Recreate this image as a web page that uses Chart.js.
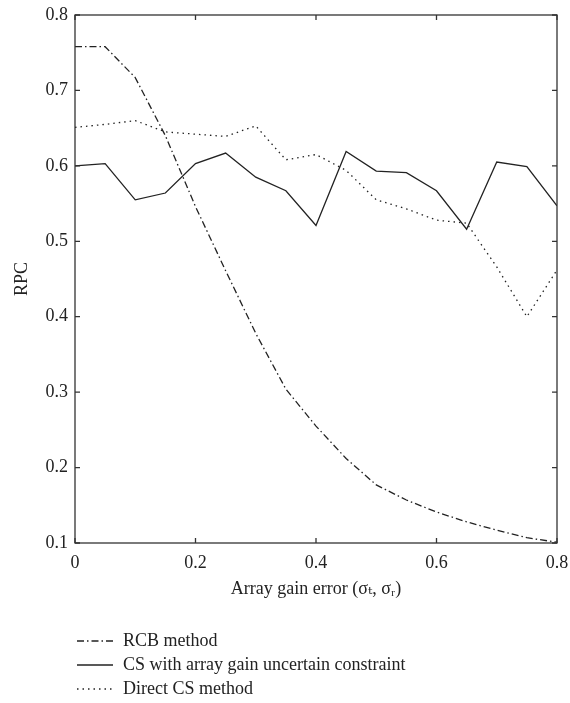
<!DOCTYPE html>
<html>
<head>
<meta charset="utf-8">
<script src="https://cdn.jsdelivr.net/npm/chart.js@4/dist/chart.umd.min.js"></script>
<style>
  html, body { margin: 0; padding: 0; background: #fff; }
</style>
</head>
<body>
<canvas id="chart" width="570" height="703"></canvas>
<script>
// array gain error (sigma_t, sigma_r)
const gainError = [0, 0.05, 0.1, 0.15, 0.2, 0.25, 0.3, 0.35, 0.4, 0.45, 0.5, 0.55, 0.6, 0.65, 0.7, 0.75, 0.8]
const rcbMethod = [0.758, 0.758, 0.717, 0.640, 0.546, 0.461, 0.378, 0.304, 0.255, 0.212, 0.177, 0.157, 0.141, 0.128, 0.117, 0.107, 0.101]
const csConstraint = [0.600, 0.603, 0.555, 0.564, 0.603, 0.617, 0.585, 0.567, 0.521, 0.619, 0.593, 0.591, 0.567, 0.516, 0.605, 0.599, 0.547]
const directCS = [0.651, 0.655, 0.660, 0.645, 0.642, 0.639, 0.653, 0.608, 0.615, 0.594, 0.555, 0.543, 0.528, 0.524, 0.466, 0.400, 0.462]
const seriesNames = ['RCB method', 'CS with array gain uncertain constraint', 'Direct CS method']

const xTickValues = [0, 0.2, 0.4, 0.6, 0.8]
const yTickValues = [0.1, 0.2, 0.3, 0.4, 0.5, 0.6, 0.7, 0.8]

const fontFamily = '"Liberation Serif", "DejaVu Serif", serif'
const ink = '#222'

function toPoints(values) {
  return values.map((v, i) => ({x: gainError[i], y: v}))
}

function tickLabel(v) {
  return v === 0 ? '0' : v.toFixed(1)
}

// matlab style box: frame, inward ticks on all sides, and the stacked legend below
const boxPlugin = {
  id: 'box',
  afterDatasetsDraw(chart) {
    let {ctx, chartArea: a, scales} = chart
    let tick = 5
    ctx.save()
    ctx.strokeStyle = '#333'
    ctx.lineWidth = 1.3
    ctx.setLineDash([])
    ctx.strokeRect(a.left, a.top, a.right - a.left, a.bottom - a.top)
    ctx.beginPath()
    for (let v of xTickValues) {
      let px = scales.x.getPixelForValue(v)
      ctx.moveTo(px, a.bottom); ctx.lineTo(px, a.bottom - tick)
      ctx.moveTo(px, a.top); ctx.lineTo(px, a.top + tick)
    }
    for (let v of yTickValues) {
      let py = scales.y.getPixelForValue(v)
      ctx.moveTo(a.left, py); ctx.lineTo(a.left + tick, py)
      ctx.moveTo(a.right, py); ctx.lineTo(a.right - tick, py)
    }
    ctx.stroke()

    // legend
    ctx.font = '18px ' + fontFamily
    ctx.textBaseline = 'middle'
    ctx.fillStyle = ink
    chart.data.datasets.forEach((ds, i) => {
      let y = 641 + 24 * i
      ctx.strokeStyle = ds.borderColor
      ctx.lineWidth = ds.borderWidth
      ctx.setLineDash(ds.borderDash || [])
      ctx.beginPath()
      ctx.moveTo(77, y)
      ctx.lineTo(113, y)
      ctx.stroke()
      ctx.fillText(ds.label, 123, y)
    })
    ctx.restore()
  },
}

let ctx = document.getElementById('chart').getContext('2d')
let chart = new Chart(ctx, {
  type: 'line',
  data: {
    datasets: [
      {label: seriesNames[0], data: toPoints(rcbMethod), borderDash: [7, 3, 1.5, 3]},
      {label: seriesNames[1], data: toPoints(csConstraint), borderDash: []},
      {label: seriesNames[2], data: toPoints(directCS), borderDash: [1.5, 4]},
    ].map(ds => Object.assign(ds, {
      borderColor: ink,
      borderWidth: 1.3,
      pointRadius: 0,
      fill: false,
      tension: 0,
    })),
  },
  options: {
    responsive: false,
    animation: false,
    devicePixelRatio: 1,
    layout: {
      padding: {left: 0, right: 13, top: 15, bottom: 103},
    },
    plugins: {
      legend: {display: false},
      tooltip: {enabled: false},
    },
    scales: {
      x: {
        type: 'linear',
        min: 0,
        max: 0.8,
        afterBuildTicks: s => { s.ticks = xTickValues.map(v => ({value: v})) },
        afterFit: s => { s.height = 57; s.paddingRight = 0; s.paddingLeft = 0 },
        grid: {display: false, drawTicks: false},
        border: {display: false},
        ticks: {
          padding: 9,
          color: ink,
          font: {family: fontFamily, size: 18},
          callback: tickLabel,
          maxRotation: 0,
        },
        title: {
          display: true,
          text: 'Array gain error (σₜ, σᵣ)',
          color: ink,
          font: {family: fontFamily, size: 18},
          padding: {top: 0, bottom: 0},
        },
      },
      y: {
        type: 'linear',
        min: 0.1,
        max: 0.8,
        afterBuildTicks: s => { s.ticks = yTickValues.map(v => ({value: v})) },
        afterFit: s => { s.width = 75; s.paddingTop = 0; s.paddingBottom = 0 },
        grid: {display: false, drawTicks: false},
        border: {display: false},
        ticks: {
          padding: 7,
          color: ink,
          font: {family: fontFamily, size: 18},
          callback: tickLabel,
        },
        title: {
          display: true,
          text: 'RPC',
          color: ink,
          font: {family: fontFamily, size: 18},
          padding: {top: 11, bottom: 0},
        },
      },
    },
  },
  plugins: [boxPlugin],
})
</script>
</body>
</html>
